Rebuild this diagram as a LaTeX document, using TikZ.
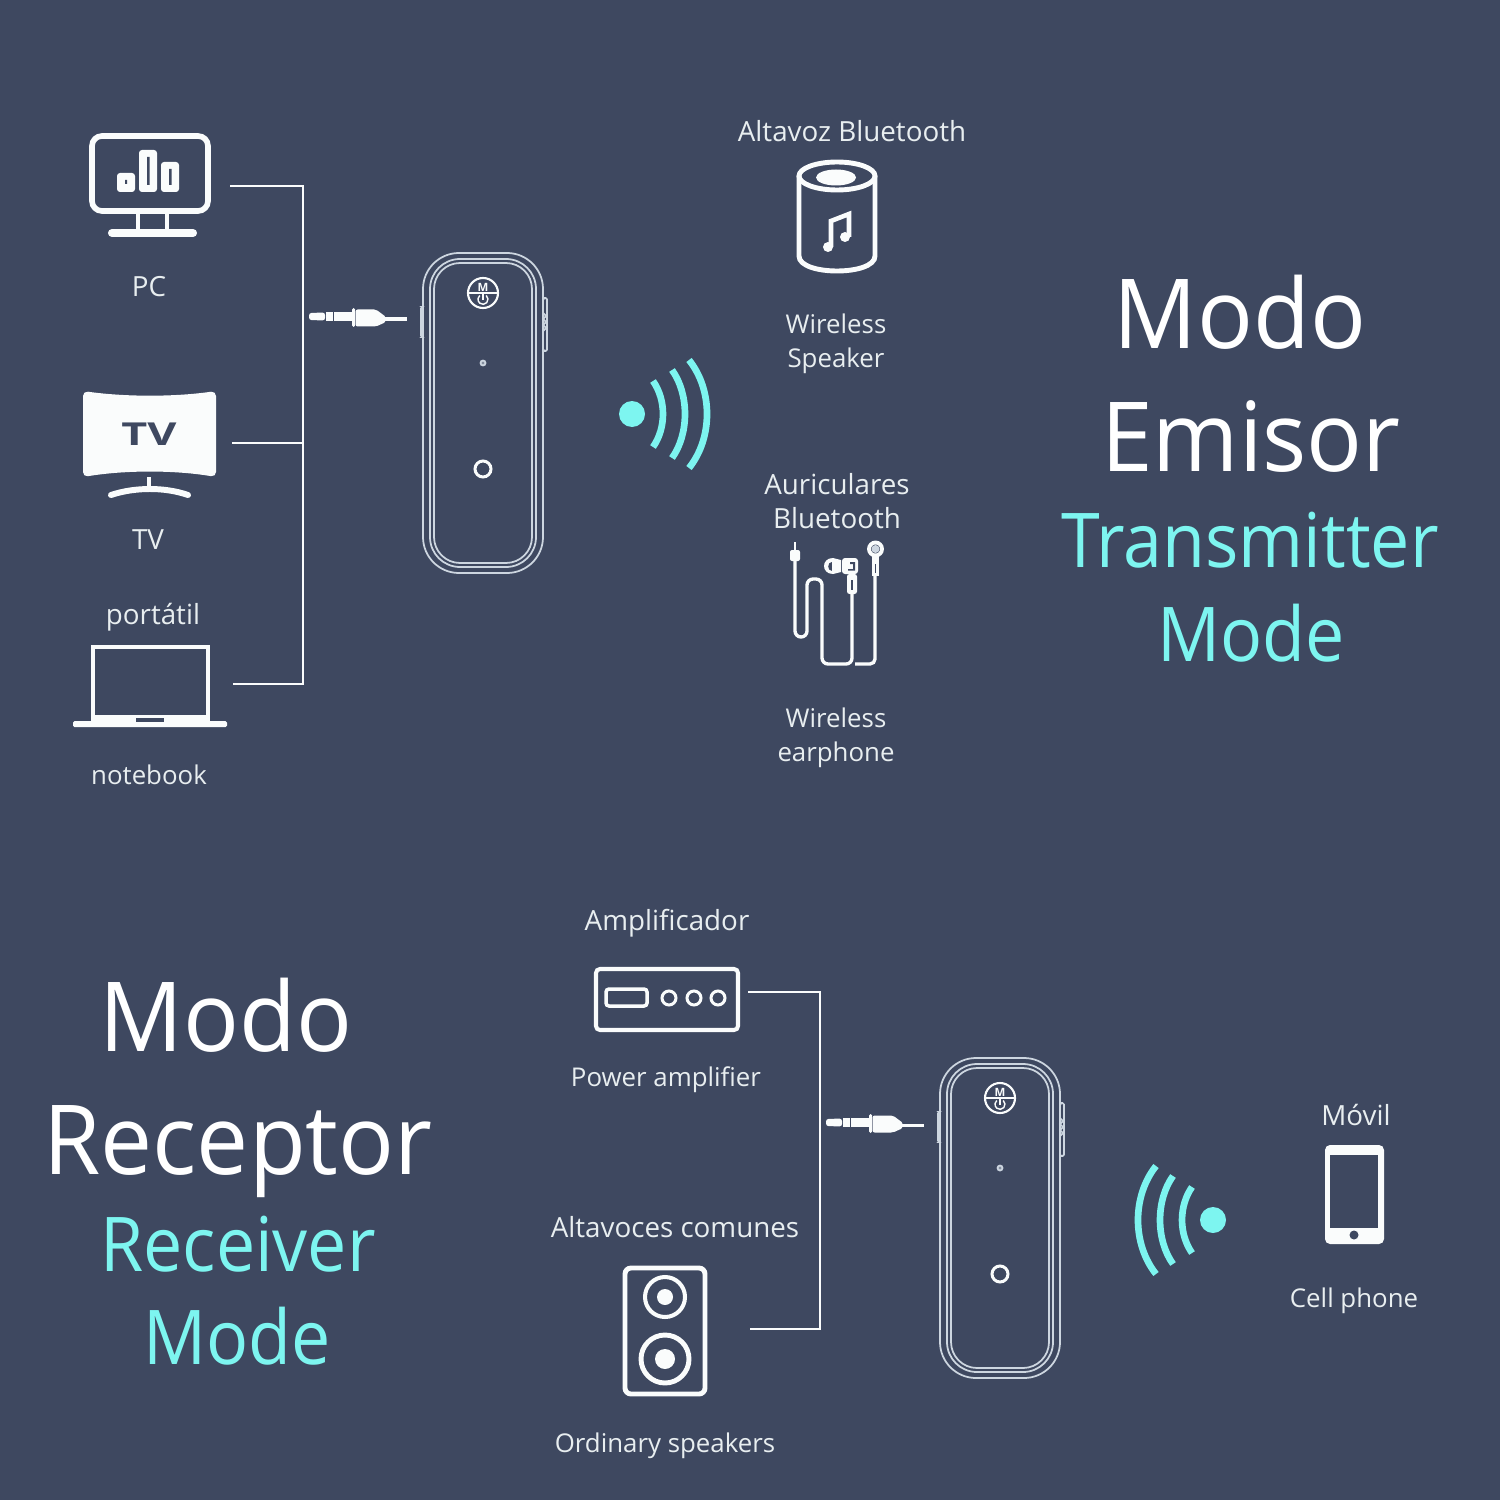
\documentclass[tikz,border=0pt]{standalone}
\usepackage{fontspec}
\setmainfont{Open Sans}
\usepackage{xcolor}
\usepackage{tikz}
\usetikzlibrary{positioning,calc}
\definecolor{SlateBg}{RGB}{62,72,96}
\definecolor{IconWhite}{RGB}{250,252,252}
\definecolor{LabelWhite}{RGB}{232,238,240}
\definecolor{SignalTeal}{RGB}{125,245,240}
\definecolor{DeviceLine}{RGB}{205,214,224}
\tikzset{
  caption/.style={text=LabelWhite,align=center,font=\fontsize{15.8}{19.4}\selectfont},
  captionen/.style={text=LabelWhite,align=center,font=\fontsize{14.7}{19.4}\selectfont},
  bigtitle/.style={text=white,anchor=base,xscale=0.96,font=\fontsize{55}{60}\selectfont},
  modetitle/.style={text=SignalTeal,anchor=base,xscale=0.925,font=\fontsize{43}{48}\selectfont},
  wire/.style={draw=IconWhite,line width=1.55pt},
  icon/.style={draw=IconWhite,line width=2.8pt},
  iconthin/.style={draw=IconWhite,line width=2.6pt},
  earcable/.style={draw=IconWhite,line width=1.9pt},
  wave/.style={draw=SignalTeal,line width=3.8pt},
  shell/.style={draw=DeviceLine,line width=1pt},
  device/.pic={
    \draw[shell,rounded corners=0.72cm] (-60,-160) rectangle (60,160);
    \draw[shell,rounded corners=0.6cm] (-53,-154) rectangle (53,154);
    \draw[shell,rounded corners=0.52cm] (-49,-150) rectangle (49,150);
    \draw[shell,fill=DeviceLine,rounded corners=0.03cm] (-62,-106) rectangle (-60,-76);
    \draw[shell,rounded corners=0.03cm] (60,-115) rectangle (64,-62);
    \draw[shell] (60,-100) -- (63,-97) -- (60,-94) -- (63,-91) -- (60,-88) -- (63,-85) -- (60,-82);
    \draw[shell,line width=1.2pt,draw=IconWhite] (0,-120) circle (15);
    \draw[draw=IconWhite,line width=0.8pt] (-14,-120) -- (14,-120);
    \node[text=IconWhite,inner sep=0pt,font=\fontsize{6.5}{7}\selectfont\bfseries] (mark) at (0,-125.5) {M};
    \draw[draw=IconWhite,line width=0.8pt] (3.2,-117.5) arc[start angle=-50,end angle=230,radius=5];
    \draw[draw=IconWhite,line width=0.8pt] (0,-120) -- (0,-113);
    \draw[shell,fill=DeviceLine!50!SlateBg] (0,-50) circle (2.5);
    \draw[draw=IconWhite,line width=1.7pt] (0,56) circle (8);
  },
  jack/.pic={
    \fill[IconWhite,rounded corners=0.05cm] (-49,-4) -- (-33,-4.5) -- (-33,3.5) -- (-49,3) -- cycle;
    \fill[IconWhite] (-32.2,-5) rectangle (-25,4);
    \fill[IconWhite] (-24.2,-5) rectangle (-6,4);
    \fill[IconWhite,rounded corners=0.03cm] (-6,-9) rectangle (-3,10);
    \fill[IconWhite,rounded corners=0.04cm] (-2.4,-7.5) -- (18,-7.5) -- (28,0) -- (28,5) -- (18,9.5) -- (-2.4,9.5) -- cycle;
    \fill[IconWhite] (27,0.5) rectangle (49,4);
  },
  wifi/.pic={
    \fill[SignalTeal] (0,0) circle (13);
    \draw[wave] (21,-33) .. controls (34.3,-14) and (34.3,14) .. (21,33);
    \draw[wave] (40,-44) .. controls (57.3,-20) and (57.3,20) .. (40,44);
    \draw[wave] (57,-54) .. controls (81,-24) and (81,24) .. (57,54);
  }
}
\begin{document}
\begin{tikzpicture}[x=0.02cm,y=-0.02cm]
\useasboundingbox (0,0) rectangle (1500,1500);
\fill[SlateBg] (0,0) rectangle (1500,1500);

% PC
\draw[icon,line width=3.2pt,rounded corners=0.2cm] (92,136) rectangle (208,211);
\draw[iconthin] (138,214) -- (138,232) (167,214) -- (167,232);
\draw[icon,line width=4.6pt,line cap=round] (112,233) -- (193,233);
\fill[IconWhite,rounded corners=0.06cm] (117,173) rectangle (135,192);
\fill[IconWhite,rounded corners=0.06cm] (139,150) rectangle (157,192);
\fill[IconWhite,rounded corners=0.06cm] (161,162) rectangle (179,192);
\fill[SlateBg] (125,180) rectangle (127,184) (147,157) rectangle (149.5,185) (169,169) rectangle (171.5,185);

% TV
\fill[IconWhite,rounded corners=0.1cm] (83,391) .. controls (125,397) and (175,397) .. (216,391) -- (216,477) .. controls (175,470) and (125,470) .. (83,477) -- cycle;
\node[text=SlateBg,xscale=1.42,font=\fontsize{18}{20}\selectfont\bfseries] (tvmark) at (149,434) {TV};
\draw[iconthin,line width=2.8pt] (149,477) -- (149,488);
\draw[icon,line width=3.4pt,line cap=round] (111,495) .. controls (135,487) and (165,487) .. (188,495);

% laptop
\fill[IconWhite] (91,645) rectangle (210,721);
\fill[SlateBg] (95,649) rectangle (206,715);
\fill[IconWhite,rounded corners=0.03cm] (73,721) rectangle (227,727);
\fill[SlateBg] (136,718) rectangle (164,722);

% wires on the left
\coordinate (pcout) at (230,186);
\coordinate (tvout) at (232,443);
\coordinate (noteout) at (233,684);
\coordinate (bustop) at (303,186);
\coordinate (busmid) at (303,443);
\coordinate (busend) at (303,684);
\draw[wire] (pcout) -- (bustop) -- (busend) -- (noteout);
\draw[wire] (tvout) -- (busmid);

\pic (jackup) at (358,317) {jack};
\pic (devup) at (483,413) {device};
\pic (wifiup) at (632,414) {wifi};

% speaker
\draw[icon] (799,176) -- (799,256) .. controls (799,276) and (875,276) .. (875,256) -- (875,176);
\draw[icon] (837,176) ellipse (38 and 14);
\fill[IconWhite] (836,177.5) ellipse (20 and 8);
\draw[iconthin] (831,247) -- (831,221) -- (849,214) -- (849,237);
\fill[IconWhite] (828,247) circle (5) (845,237) circle (5);

% earphone
\draw[earcable,line width=1.5pt] (795,542) -- (795,552);
\fill[IconWhite,rounded corners=0.04cm] (790,550) rectangle (800,561);
\draw[earcable,rounded corners=0.12cm] (795,560) -- (795,637) -- (807,637) -- (807,579) -- (822,579) -- (822,664) -- (852,664) -- (852,593);
\draw[earcable,rounded corners=0.1cm] (855,664) -- (875,664) -- (875,565);
\fill[IconWhite,rounded corners=0.06cm] (842,558) rectangle (858,574);
\fill[SlateBg] (850,562) rectangle (855,564) (853,564) rectangle (855,569) (848,569) rectangle (855,570.5);
\fill[IconWhite] (833,558) .. controls (821,558) and (821,574) .. (833,574) -- (841,572) -- (841,560) -- cycle;
\fill[SlateBg] (832,562) .. controls (827,562) and (827,571) .. (832,571) -- cycle;
\fill[IconWhite,rounded corners=0.05cm] (847,574) rectangle (857,594);
\fill[SlateBg] (851,580) rectangle (853,590);
\draw[earcable,line width=2.2pt] (875.5,549) circle (6.5);
\fill[DeviceLine] (875.5,549) circle (4);
\fill[IconWhite] (872,556) rectangle (879,576);
\fill[SlateBg] (874.8,564) rectangle (876.2,573);

% amplifier
\draw[icon,line width=2.3pt,rounded corners=0.08cm] (596,969) rectangle (738,1030);
\draw[icon,line width=2pt,rounded corners=0.06cm] (606,989) rectangle (647,1006);
\draw[iconthin,line width=1.7pt] (669,998) circle (7) (694,998) circle (7) (718,998) circle (7);

% bookshelf speaker
\draw[icon,rounded corners=0.12cm] (625,1268) rectangle (705,1394);
\draw[icon,line width=2.3pt] (665,1297) circle (20);
\fill[IconWhite] (665,1297) circle (8);
\draw[icon] (665,1359) circle (24);
\fill[IconWhite] (665,1359) circle (10);

% wires below
\coordinate (ampout) at (748,992);
\coordinate (boxout) at (750,1329);
\coordinate (lowtop) at (820,992);
\coordinate (lowend) at (820,1329);
\draw[wire] (ampout) -- (lowtop) -- (lowend) -- (boxout);

\pic (jacklow) at (875,1123) {jack};
\pic (devlow) at (1000,1218) {device};
\pic[xscale=-1] (wifilow) at (1213,1220) {wifi};

% phone
\fill[IconWhite,rounded corners=0.1cm] (1325,1145) rectangle (1384,1244);
\fill[SlateBg] (1330,1155) rectangle (1378,1228);
\fill[SlateBg] (1354,1235) circle (4.5);

% captions
\node[caption] (pclabel) at (149,287) {PC};
\node[caption] (tvlabel) at (148,540) {TV};
\node[caption] (portatil) at (153,617) {portátil};
\node[captionen] (notebook) at (149,775) {notebook};
\node[caption] (altavoz) at (852,131) {Altavoz Bluetooth};
\node[captionen] (wspeaker) at (836,343.5) {Wireless\\Speaker};
\node[caption] (auricular) at (837,501) {Auriculares\\Bluetooth};
\node[captionen] (wearphone) at (836,737.5) {Wireless\\earphone};
\node[caption] (amplif) at (667,923) {Amplificador};
\node[captionen] (poweramp) at (666,1080) {Power amplifier};
\node[caption] (comunes) at (675,1227) {Altavoces comunes};
\node[captionen] (ordinary) at (665,1446) {Ordinary speakers};
\node[caption] (movil) at (1356,1115) {Móvil};
\node[captionen] (cellphone) at (1354,1301) {Cell phone};

% titles
\node[bigtitle] (modoup) at (1240,348) {Modo};
\node[bigtitle] (emisor) at (1251,471) {Emisor};
\node[modetitle] (transmitter) at (1250,567) {Transmitter};
\node[modetitle] (modeup) at (1251,661) {Mode};
\node[bigtitle] (modolow) at (226,1051) {Modo};
\node[bigtitle] (receptor) at (238,1174) {Receptor};
\node[modetitle] (receiver) at (238,1271) {Receiver};
\node[modetitle] (modelow) at (237,1364) {Mode};
\end{tikzpicture}
\end{document}
